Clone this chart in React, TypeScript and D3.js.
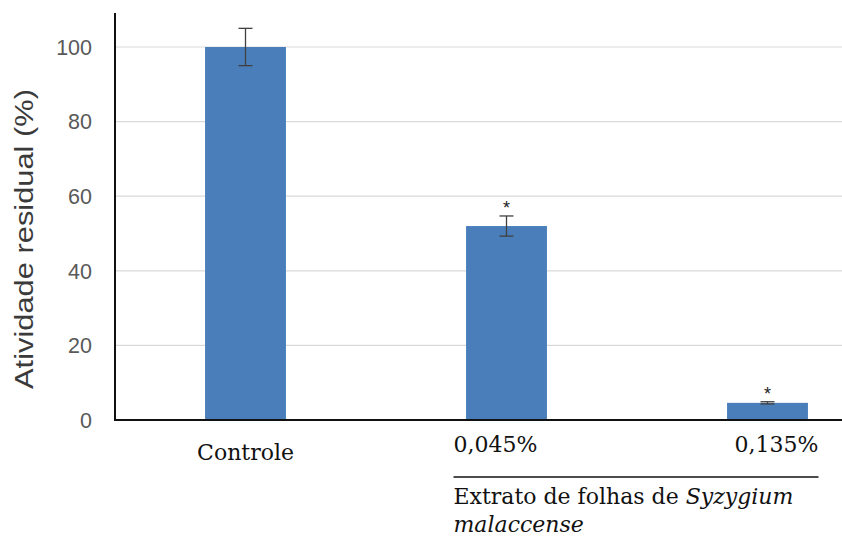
import React from 'react';
import * as d3 from "d3";

const categories = ["Controle", "0,045%", "0,135%"];
const values = [100, 52, 4.6];
const errors = [5, 2.7, 0.3];
const significant = [false, true, true];
const yTicks = [0, 20, 40, 60, 80, 100];
const yTitle = "Atividade residual (%)";
const groupLabel = "Extrato de folhas de ";
const groupSpecies = ["Syzygium", "malaccense"];

const App = () => {
    const width = 842;
    const height = 539;
    const left = 115;
    const bottom = 420;

    const xScale = d3.scaleBand<string>()
        .domain(categories)
        .range([left, left + 3 * 261])
        .paddingInner(0.69)
        .paddingOuter(0.345);

    const yScale = d3.scaleLinear()
        .domain([0, 100])
        .range([bottom, 47]);

    const barColor = "#4a7ebb";
    const serif = "DejaVu Serif";
    const sans = "Liberation Sans, Arial, sans-serif";

    const center = (c: string) => (xScale(c) ?? 0) + xScale.bandwidth() / 2;
    const lineStart = center(categories[1]) - 53;
    const lineEnd = center(categories[2]) + 51;

    return (
        <svg width={width} height={height}
             style={{position: "absolute", left: 0, top: 0, background: "white"}}>
            {/* gridlines */}
            {yTicks.filter(t => t > 0).map(t =>
                <line key={t} x1={left} x2={width} y1={yScale(t)} y2={yScale(t)}
                      stroke="#d9d9d9" strokeWidth={1.2}/>
            )}
            {/* y tick labels */}
            {yTicks.map(t =>
                <text key={t} x={92} y={yScale(t)} dy="0.36em" textAnchor="end"
                      fontFamily={sans} fontSize={21.5} fill="#595959">{t}</text>
            )}
            <text transform={`translate(33,239) rotate(-90)`} textAnchor="middle"
                  fontFamily={sans} fontSize={26} fill="#3a3a3a"
                  textLength={300} lengthAdjust="spacingAndGlyphs">{yTitle}</text>

            {/* bars */}
            {categories.map((c, i) =>
                <rect key={c} x={xScale(c)} width={xScale.bandwidth()}
                      y={yScale(values[i])} height={bottom - yScale(values[i])}
                      fill={barColor}/>
            )}
            {/* error bars */}
            {categories.map((c, i) => {
                const cx = center(c);
                const top = yScale(values[i] + errors[i]);
                const bot = yScale(values[i] - errors[i]);
                return (
                    <g key={c} stroke="#404040" strokeWidth={1.3}>
                        <line x1={cx} x2={cx} y1={top} y2={bot}/>
                        <line x1={cx - 7} x2={cx + 7} y1={top} y2={top}/>
                        <line x1={cx - 7} x2={cx + 7} y1={bot} y2={bot}/>
                    </g>
                );
            })}
            {categories.map((c, i) => significant[i] ?
                <text key={c} x={center(c)} y={yScale(values[i] + errors[i]) - 2}
                      textAnchor="middle" fontFamily={sans} fontSize={18} fill="#222">*</text>
                : null
            )}

            {/* axes */}
            <line x1={left} x2={left} y1={13} y2={bottom + 1} stroke="#111" strokeWidth={2}/>
            <line x1={left - 1} x2={width} y1={bottom} y2={bottom} stroke="#111" strokeWidth={2}/>

            {/* category labels */}
            <g fontFamily={serif} fontSize={22} fill="#111">
                <text x={center(categories[0])} y={460} textAnchor="middle">{categories[0]}</text>
                <text x={lineStart} y={452} textAnchor="start">{categories[1]}</text>
                <text x={lineEnd} y={452} textAnchor="end">{categories[2]}</text>
                <text x={lineStart} y={504}>
                    {groupLabel}<tspan fontStyle="italic">{groupSpecies[0]}</tspan>
                </text>
                <text x={lineStart} y={532} fontStyle="italic">{groupSpecies[1]}</text>
            </g>
            <line x1={lineStart} x2={lineEnd} y1={477} y2={477} stroke="#111" strokeWidth={1.5}/>
        </svg>
    );
};

export default App;
